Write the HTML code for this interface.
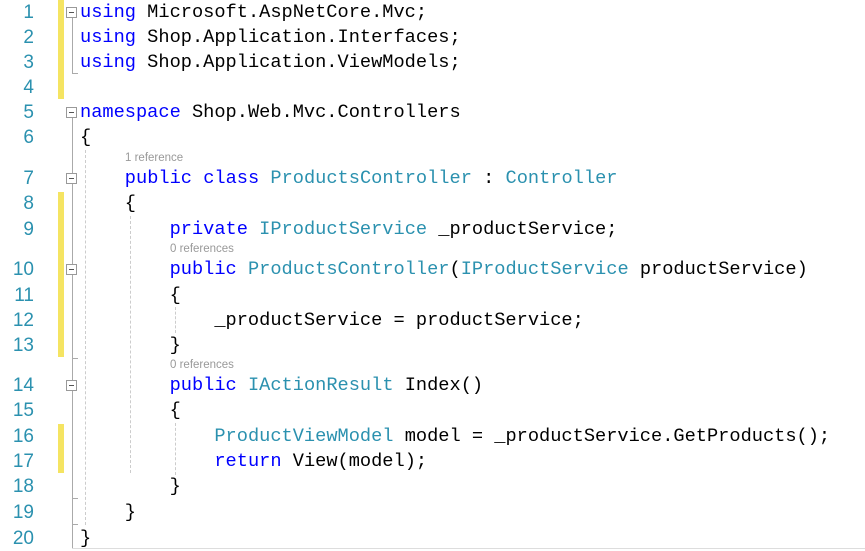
<!DOCTYPE html>
<html><head><meta charset="utf-8">
<style>
html,body{margin:0;padding:0;background:#fff;width:865px;height:551px;overflow:hidden;position:relative}
.ln{position:absolute;left:0;width:34px;text-align:right;font-family:"Liberation Sans",sans-serif;font-size:19px;color:#2B91AF;line-height:25px}
.c{position:absolute;left:80px;font-family:"Liberation Mono",monospace;font-size:18.67px;line-height:25px;white-space:pre;color:#000}
.k{color:#0000FF}.t{color:#2B91AF}
.r{position:absolute;font-family:"Liberation Sans",sans-serif;font-size:11.5px;color:#999;line-height:12px}
.y{position:absolute;left:58px;width:6px;background:#F5E462}
.box{position:absolute;left:66px;width:11px;height:11px;border:1px solid #999;background:#fff;box-sizing:border-box}
.box::after{content:"";position:absolute;left:2px;top:4px;width:5px;height:1px;background:#555}
.g{position:absolute;width:0;border-left:1px dashed #ccc}
.v{position:absolute;left:72px;width:1px;background:#aaa}
.h{position:absolute;left:72px;height:1px;width:6px;background:#aaa}
</style></head><body>
<div class="y" style="top:0;height:99px"></div>
<div class="y" style="top:192px;height:165px"></div>
<div class="y" style="top:424px;height:49px"></div>
<div class="v" style="top:18px;height:56px"></div>
<div class="h" style="top:73px"></div>
<div class="v" style="top:118px;height:430px"></div>
<div style="position:absolute;left:72px;top:548px;width:793px;height:1px;background:#ddd"></div>
<div class="h" style="top:358px"></div>
<div class="h" style="top:498px"></div>
<div class="h" style="top:524px"></div>
<div class="g" style="left:85px;top:150px;height:375px"></div>
<div class="g" style="left:130px;top:216px;height:257px"></div>
<div class="g" style="left:175px;top:307px;height:26px"></div>
<div class="g" style="left:175px;top:423px;height:52px"></div>
<div class="box" style="top:7px"></div>
<div class="box" style="top:107px"></div>
<div class="box" style="top:173px"></div>
<div class="box" style="top:264px"></div>
<div class="box" style="top:380px"></div>
<div class="ln" style="top:0">1</div>
<div class="ln" style="top:25px">2</div>
<div class="ln" style="top:50px">3</div>
<div class="ln" style="top:75px">4</div>
<div class="ln" style="top:100px">5</div>
<div class="ln" style="top:125px">6</div>
<div class="ln" style="top:166px">7</div>
<div class="ln" style="top:191px">8</div>
<div class="ln" style="top:217px">9</div>
<div class="ln" style="top:257px">10</div>
<div class="ln" style="top:283px">11</div>
<div class="ln" style="top:308px">12</div>
<div class="ln" style="top:333px">13</div>
<div class="ln" style="top:373px">14</div>
<div class="ln" style="top:398px">15</div>
<div class="ln" style="top:424px">16</div>
<div class="ln" style="top:449px">17</div>
<div class="ln" style="top:474px">18</div>
<div class="ln" style="top:500px">19</div>
<div class="ln" style="top:526px">20</div>
<div class="c" style="top:0"><span class="k">using</span> Microsoft.AspNetCore.Mvc;</div>
<div class="c" style="top:25px"><span class="k">using</span> Shop.Application.Interfaces;</div>
<div class="c" style="top:50px"><span class="k">using</span> Shop.Application.ViewModels;</div>
<div class="c" style="top:100px"><span class="k">namespace</span> Shop.Web.Mvc.Controllers</div>
<div class="c" style="top:125px">{</div>
<div class="r" style="left:125px;top:152px">1 reference</div>
<div class="c" style="top:166px">    <span class="k">public</span> <span class="k">class</span> <span class="t">ProductsController</span> : <span class="t">Controller</span></div>
<div class="c" style="top:191px">    {</div>
<div class="c" style="top:217px">        <span class="k">private</span> <span class="t">IProductService</span> _productService;</div>
<div class="r" style="left:170px;top:243px">0 references</div>
<div class="c" style="top:257px">        <span class="k">public</span> <span class="t">ProductsController</span>(<span class="t">IProductService</span> productService)</div>
<div class="c" style="top:283px">        {</div>
<div class="c" style="top:308px">            _productService = productService;</div>
<div class="c" style="top:333px">        }</div>
<div class="r" style="left:170px;top:359px">0 references</div>
<div class="c" style="top:373px">        <span class="k">public</span> <span class="t">IActionResult</span> Index()</div>
<div class="c" style="top:398px">        {</div>
<div class="c" style="top:424px">            <span class="t">ProductViewModel</span> model = _productService.GetProducts();</div>
<div class="c" style="top:449px">            <span class="k">return</span> View(model);</div>
<div class="c" style="top:474px">        }</div>
<div class="c" style="top:500px">    }</div>
<div class="c" style="top:526px">}</div>
</body></html>
